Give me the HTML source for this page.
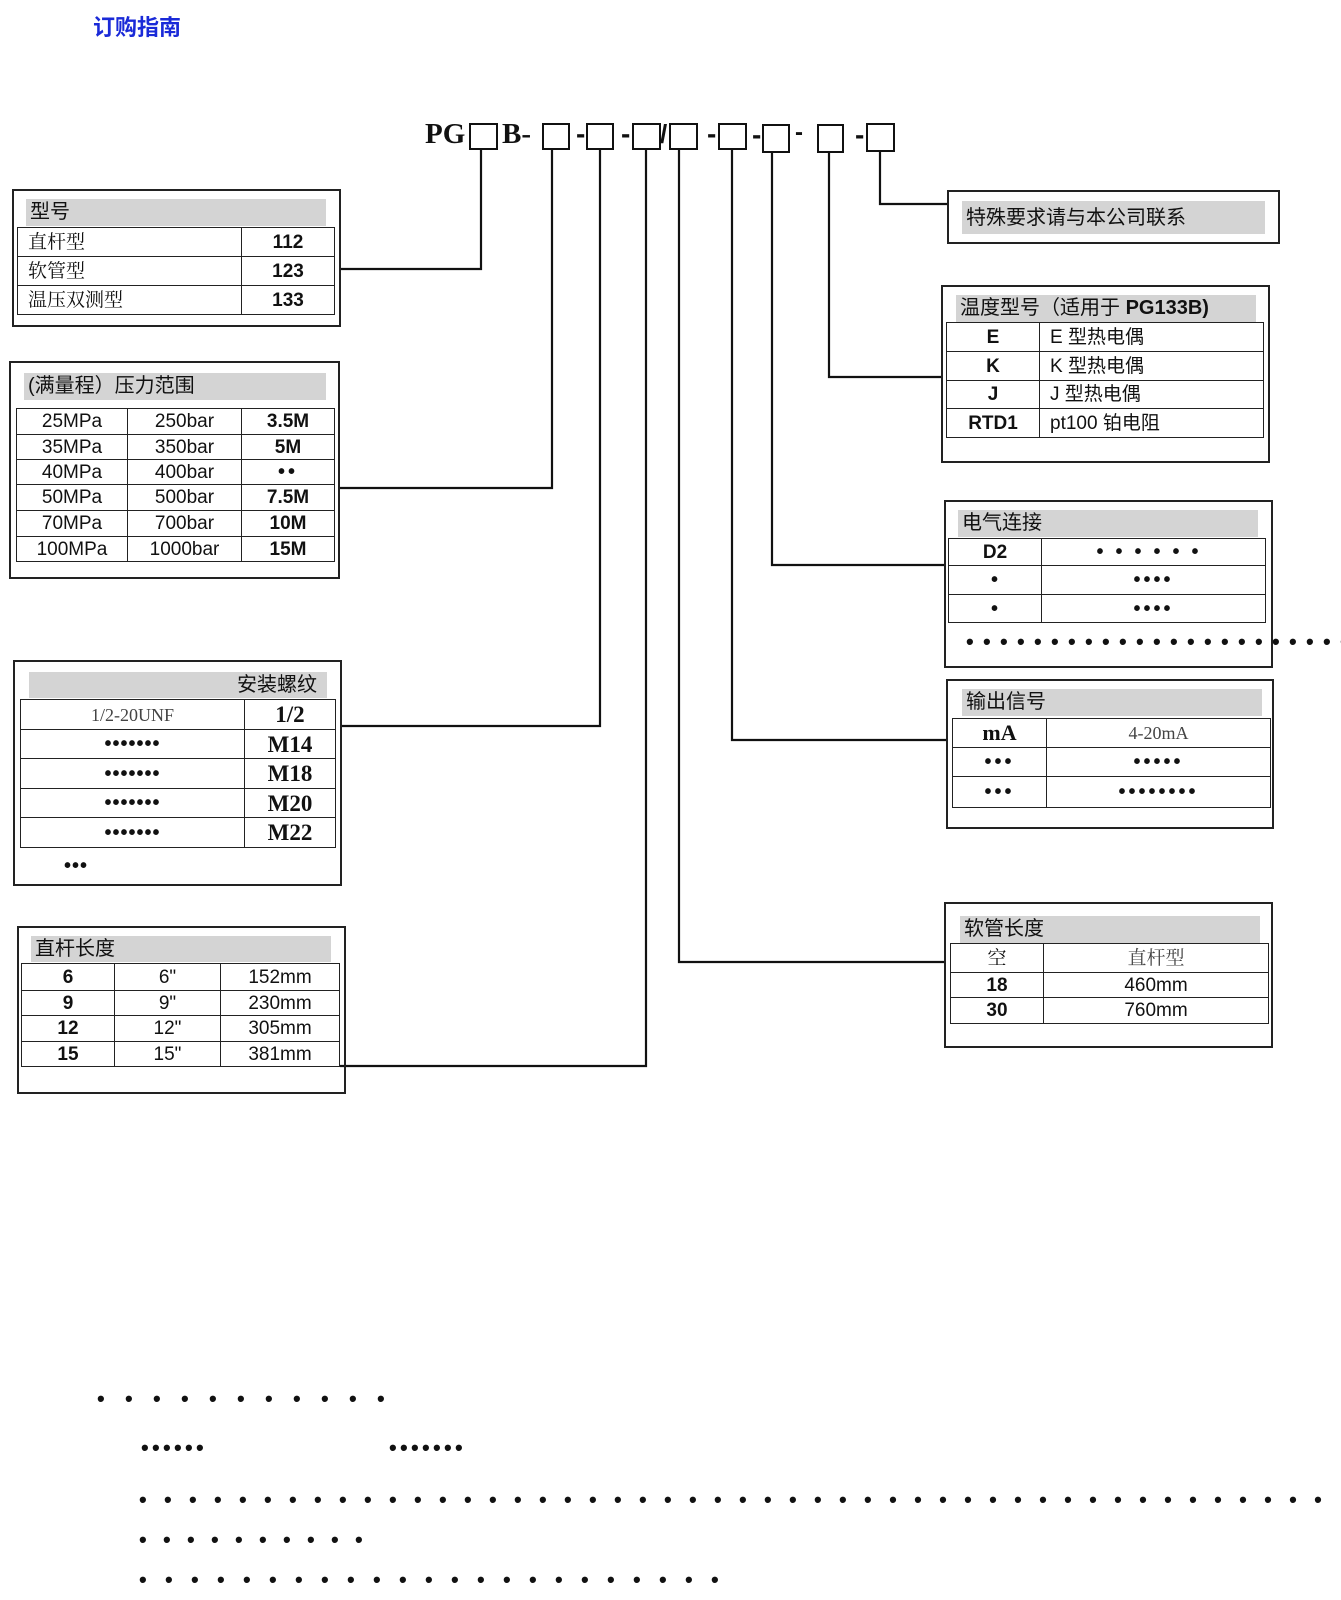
<!DOCTYPE html>
<html><head><meta charset="utf-8">
<style>
body{margin:0;width:1341px;height:1600px;background:#fff;position:relative;overflow:hidden;font-family:"Liberation Sans","Noto Sans CJK SC",sans-serif;color:#111}
.a{position:absolute}
.box{position:absolute;border:2px solid #222;box-sizing:border-box}
.hd{position:absolute;background:#d4d4d4;font-size:20px;line-height:27px;padding-left:4px;box-sizing:border-box;font-family:"Liberation Sans","Noto Sans CJK SC",sans-serif}
table{position:absolute;border-collapse:collapse;table-layout:fixed}
td{border:1.5px solid #222;padding:0;text-align:center;font-size:19px;line-height:1;white-space:nowrap;overflow:hidden}
.b{font-weight:bold}
.s{font-family:"Liberation Serif","Noto Serif CJK SC",serif}
.l{text-align:left;padding-left:10px}
.sq{position:absolute;border:2.5px solid #111;box-sizing:border-box}
.dots{position:absolute;font-size:22px;line-height:22px;font-weight:bold;white-space:nowrap}
.td{font-size:20px;font-weight:bold;letter-spacing:1px}
</style></head><body>
<div class="a b" style="left:93px;top:10px;font-size:22px;color:#1a2ad8;font-family:'Liberation Sans','Noto Sans CJK SC',sans-serif">订购指南</div>

<!-- top code -->
<div class="a b s" style="left:425px;top:118px;font-size:29px">PG</div>
<div class="sq" style="left:469px;top:123px;width:29px;height:27px"></div>
<div class="a b s" style="left:502px;top:118px;font-size:29px">B-</div>
<div class="sq" style="left:542px;top:123px;width:28px;height:27px"></div>
<div class="a b" style="left:576px;top:118px;font-size:28px">-</div>
<div class="sq" style="left:586px;top:123px;width:28px;height:27px"></div>
<div class="a b" style="left:621px;top:118px;font-size:28px">-</div>
<div class="sq" style="left:632px;top:123px;width:29px;height:27px"></div>
<div class="a b" style="left:660px;top:119px;font-size:26px">/</div>
<div class="sq" style="left:669px;top:123px;width:29px;height:27px"></div>
<div class="a b" style="left:707px;top:118px;font-size:28px">-</div>
<div class="sq" style="left:718px;top:123px;width:29px;height:27px"></div>
<div class="a b" style="left:752px;top:119px;font-size:28px">-</div>
<div class="sq" style="left:762px;top:124px;width:28px;height:29px"></div>
<div class="a b" style="left:795px;top:119px;font-size:24px">-</div>
<div class="sq" style="left:817px;top:124px;width:27px;height:29px"></div>
<div class="a b" style="left:855px;top:119px;font-size:28px">-</div>
<div class="sq" style="left:866px;top:123px;width:29px;height:29px"></div>

<svg class="a" style="left:0;top:0" width="1341" height="1600">
<g stroke="#111" stroke-width="2.2" fill="none">
<polyline points="481,150 481,269 341,269"/>
<polyline points="552,150 552,488 340,488"/>
<polyline points="600,150 600,726 342,726"/>
<polyline points="646,150 646,1066 340,1066"/>
<polyline points="679,150 679,962 944,962"/>
<polyline points="732,150 732,740 946,740"/>
<polyline points="772,153 772,565 944,565"/>
<polyline points="829,153 829,377 941,377"/>
<polyline points="880,152 880,204 947,204"/>
</g></svg>

<!-- 型号 -->
<div class="box" style="left:12px;top:189px;width:329px;height:138px"></div>
<div class="hd" style="left:26px;top:199px;width:300px;height:27px">型号</div>
<table style="left:17px;top:227px;width:318px">
<col style="width:224px"><col>
<tr style="height:29px"><td class="l s">直杆型</td><td class="b">112</td></tr>
<tr style="height:29px"><td class="l s">软管型</td><td class="b">123</td></tr>
<tr style="height:29px"><td class="l s">温压双测型</td><td class="b">133</td></tr>
</table>

<!-- 压力范围 -->
<div class="box" style="left:9px;top:361px;width:331px;height:218px"></div>
<div class="hd" style="left:24px;top:373px;width:302px;height:27px">(满量程）压力范围</div>
<table style="left:16px;top:408px;width:319px">
<col style="width:111px"><col style="width:114px"><col>
<tr style="height:26px"><td>25MPa</td><td>250bar</td><td class="b">3.5M</td></tr>
<tr style="height:25px"><td>35MPa</td><td>350bar</td><td class="b">5M</td></tr>
<tr style="height:25px"><td>40MPa</td><td>400bar</td><td class="td" style="letter-spacing:3px">••</td></tr>
<tr style="height:26px"><td>50MPa</td><td>500bar</td><td class="b">7.5M</td></tr>
<tr style="height:26px"><td>70MPa</td><td>700bar</td><td class="b">10M</td></tr>
<tr style="height:25px"><td>100MPa</td><td>1000bar</td><td class="b">15M</td></tr>
</table>

<!-- 安装螺纹 -->
<div class="box" style="left:13px;top:660px;width:329px;height:226px"></div>
<div class="hd" style="left:29px;top:672px;width:298px;height:26px;text-align:right;padding-right:10px">安装螺纹</div>
<table style="left:20px;top:699px;width:316px">
<col style="width:224px"><col>
<tr style="height:30px"><td class="s" style="font-size:18px;color:#444">1/2-20UNF</td><td class="b s" style="font-size:23px">1/2</td></tr>
<tr style="height:29px"><td class="td">•••••••</td><td class="b s" style="font-size:23px">M14</td></tr>
<tr style="height:30px"><td class="td">•••••••</td><td class="b s" style="font-size:23px">M18</td></tr>
<tr style="height:29px"><td class="td">•••••••</td><td class="b s" style="font-size:23px">M20</td></tr>
<tr style="height:30px"><td class="td">•••••••</td><td class="b s" style="font-size:23px">M22</td></tr>
</table>
<div class="dots" style="left:64px;top:855px;font-size:20px;letter-spacing:1px">•••</div>

<!-- 直杆长度 -->
<div class="box" style="left:17px;top:926px;width:329px;height:168px"></div>
<div class="hd" style="left:31px;top:936px;width:300px;height:26px">直杆长度</div>
<table style="left:21px;top:963px;width:319px">
<col style="width:93px"><col style="width:106px"><col>
<tr style="height:27px"><td class="b">6</td><td>6"</td><td>152mm</td></tr>
<tr style="height:25px"><td class="b">9</td><td>9"</td><td>230mm</td></tr>
<tr style="height:26px"><td class="b">12</td><td>12"</td><td>305mm</td></tr>
<tr style="height:25px"><td class="b">15</td><td>15"</td><td>381mm</td></tr>
</table>

<!-- 特殊要求 -->
<div class="box" style="left:947px;top:190px;width:333px;height:54px"></div>
<div class="hd" style="left:962px;top:201px;width:303px;height:33px;line-height:34px">特殊要求请与本公司联系</div>

<!-- 温度型号 -->
<div class="box" style="left:941px;top:285px;width:329px;height:178px"></div>
<div class="hd" style="left:956px;top:295px;width:300px;height:27px">温度型号（适用于 <b>PG133B)</b></div>
<table style="left:946px;top:322px;width:318px">
<col style="width:93px"><col>
<tr style="height:29px"><td class="b">E</td><td class="l">E 型热电偶</td></tr>
<tr style="height:29px"><td class="b">K</td><td class="l">K 型热电偶</td></tr>
<tr style="height:28px"><td class="b">J</td><td class="l">J 型热电偶</td></tr>
<tr style="height:29px"><td class="b">RTD1</td><td class="l">pt100 铂电阻</td></tr>
</table>

<!-- 电气连接 -->
<div class="box" style="left:944px;top:500px;width:329px;height:168px"></div>
<div class="hd" style="left:958px;top:510px;width:300px;height:27px">电气连接</div>
<table style="left:948px;top:538px;width:318px">
<col style="width:93px"><col>
<tr style="height:27px"><td class="b">D2</td><td class="td" style="letter-spacing:12px">••••••</td></tr>
<tr style="height:29px"><td class="td">•</td><td class="td" style="letter-spacing:3px">••••</td></tr>
<tr style="height:28px"><td class="td">•</td><td class="td" style="letter-spacing:3px">••••</td></tr>
</table>
<div class="dots" style="left:966px;top:631px;letter-spacing:9.3px">•••••••••••••••••••••••</div>

<!-- 输出信号 -->
<div class="box" style="left:946px;top:679px;width:328px;height:150px"></div>
<div class="hd" style="left:962px;top:689px;width:300px;height:27px">输出信号</div>
<table style="left:952px;top:718px;width:319px">
<col style="width:94px"><col>
<tr style="height:29px"><td class="b s" style="font-size:22px">mA</td><td class="s" style="font-size:18px;color:#444">4-20mA</td></tr>
<tr style="height:29px"><td class="td" style="letter-spacing:3px">•••</td><td class="td" style="letter-spacing:3px">•••••</td></tr>
<tr style="height:31px"><td class="td" style="letter-spacing:3px">•••</td><td class="td" style="letter-spacing:3px">••••••••</td></tr>
</table>

<!-- 软管长度 -->
<div class="box" style="left:944px;top:902px;width:329px;height:146px"></div>
<div class="hd" style="left:960px;top:916px;width:300px;height:27px">软管长度</div>
<table style="left:950px;top:943px;width:319px">
<col style="width:93px"><col>
<tr style="height:29px"><td class="s">空</td><td class="s" style="color:#444">直杆型</td></tr>
<tr style="height:25px"><td class="b">18</td><td>460mm</td></tr>
<tr style="height:26px"><td class="b">30</td><td>760mm</td></tr>
</table>

<!-- bottom dots -->
<div class="dots" style="left:97px;top:1388px;letter-spacing:20.3px">•••••••••••</div>
<div class="dots" style="left:141px;top:1437px;letter-spacing:3.3px">••••••</div>
<div class="dots" style="left:389px;top:1437px;letter-spacing:3.3px">•••••••</div>
<div class="dots" style="left:139px;top:1489px;letter-spacing:17.3px">••••••••••••••••••••••••••••••••••••••••••••••••</div>
<div class="dots" style="left:139px;top:1529px;letter-spacing:16.3px">••••••••••</div>
<div class="dots" style="left:139px;top:1569px;letter-spacing:18.3px">•••••••••••••••••••••••</div>
</body></html>
